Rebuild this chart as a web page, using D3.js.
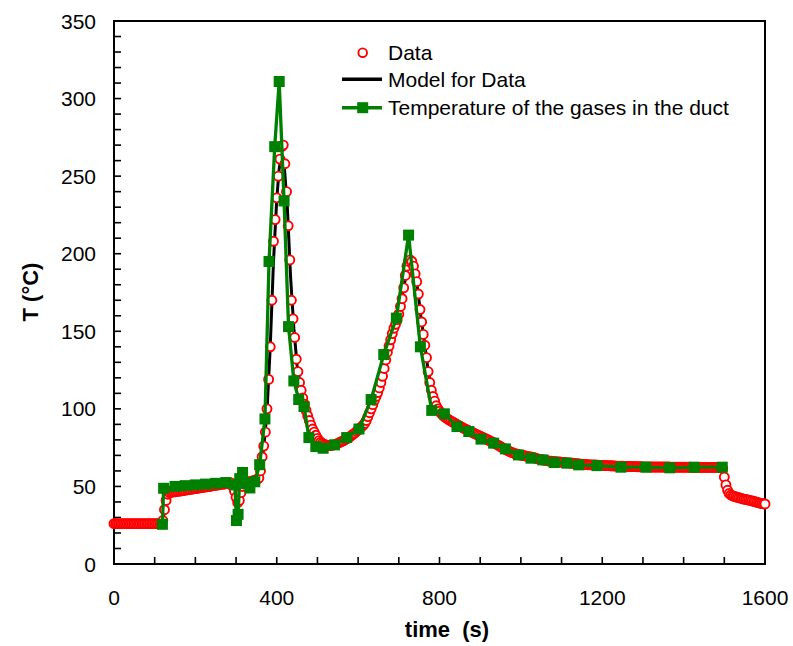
<!DOCTYPE html>
<html><head><meta charset="utf-8">
<script src="https://cdn.jsdelivr.net/npm/d3@7"></script>
<style>
body{margin:0;background:#fff}
svg{display:block}
text{font-family:Arial,"Liberation Sans",Helvetica,sans-serif;fill:#000}
</style>
</head><body>
<svg id="c" width="793" height="646"></svg>
<script>
// ---- DATA ----
// measured data: one sample every 4 s from 0 to 1600 s
const dataStep = 4;
const dataTemp = [
26,26,26,26,26,26,26,26,26,26,
26,26,26,26,26,26,26,26,26,26,
26,26,26,26,26,26,26,26,26,26,
28,35,41,45,46,46.2,46.4,46.5,46.6,46.8,
47,47.1,47.3,47.4,47.6,47.8,48,48.1,48.3,48.4,
48.6,48.8,49,49.1,49.3,49.5,49.6,49.8,50,50.1,
50.3,50.5,50.6,50.8,51,51.1,51.3,51.5,51.6,51.8,
52,52.1,52.2,50,47,43,39.5,41,46,50,
51.5,52,52.5,53,53.2,53.5,53.8,54,54.5,55.5,
60,69,76,85,100,119,140,170,208,222,
236,250,261,269,270,258,240,218,196,170,
158,146,132,124,117,112,107,103,99,95.5,
92.5,89.5,87,85,83,81,79.5,78.5,77.8,77.2,
76.8,76.5,76.4,76.4,76.5,76.8,77.1,77.5,78,78.5,
79,79.5,80.1,80.7,81.4,82.1,82.9,83.7,84.5,85.4,
86.4,87.3,88.3,89.3,90.6,92.5,95,97.5,100,102.7,
105.5,108,110.5,113.5,117,121,126,131.5,136.5,140.5,
144.5,148.5,152,154.5,157.5,161,166,171,178,186,
192,195,196,195,192,187,182,174,164,156,
148,141,133,124,117,112,108,105,102,100,
98.5,97,96,95,94.2,93.5,92.8,92.2,91.6,91,
90.4,89.8,89.2,88.6,88,87.4,86.9,86.4,85.9,85.4,
84.9,84.4,83.9,83.4,82.9,82.4,81.9,81.4,80.9,80.4,
79.9,79.4,78.9,78.4,77.8,77.2,76.6,76,75.4,74.8,
74.2,73.6,73.1,72.6,72.1,71.7,71.3,71,70.7,70.4,
70.2,70,69.8,69.6,69.4,69.2,69,68.8,68.5,68.2,
67.9,67.6,67.4,67.2,67,66.8,66.6,66.4,66.3,66.2,
66.1,66,65.9,65.8,65.7,65.6,65.5,65.4,65.3,65.2,
65.1,65,64.9,64.8,64.7,64.6,64.5,64.4,64.3,64.2,
64.1,64,64,63.9,63.9,63.8,63.8,63.7,63.7,63.6,
63.6,63.5,63.5,63.4,63.4,63.3,63.3,63.2,63.2,63.1,
63.1,63,63,63,62.9,62.9,62.9,62.8,62.8,62.8,
62.8,62.7,62.7,62.7,62.7,62.6,62.6,62.6,62.6,62.6,
62.5,62.5,62.5,62.5,62.5,62.5,62.5,62.5,62.5,62.5,
62.5,62.5,62.4,62.4,62.4,62.4,62.4,62.4,62.4,62.4,
62.4,62.4,62.4,62.4,62.4,62.3,62.3,62.3,62.3,62.3,
62.3,62.3,62.3,62.3,62.3,62.3,62.3,62.3,62.3,62.3,
62.3,62.3,62.2,62.2,61.5,56,51,47.5,45.5,44.5,
44,43.6,43.3,43,42.7,42.4,42.1,41.8,41.6,41.4,
41.2,41,40.7,40.4,40.1,39.8,39.5,39.2,39,38.8,
38.7
];
const dataTime = dataTemp.map((d, i) => i * dataStep);

// model for data
const modelTime = [0,116,120,124,132,140,200,280,288,296,304,312,320,340,356,362,368,376,384,392,400,406,412,418,426,434,442,450,460,470,480,490,500,520,540,560,580,600,620,640,660,680,700,712,722,730,738,746,754,762,772,782,792,808,840,900,960,1000,1100,1200,1300,1492,1500,1508,1520,1560,1600];
const modelTemp = [26,26,27,34,44,46.5,48.6,52,51,45,40,47,51.5,53,55,63,75,98,140,195,235,255,264,258,230,185,152,128,112,100,92,85.5,80.5,77,77,79,82,86.5,92,105,120,144,161,178,192,196,190,178,160,145,125,110,102,96,90.5,82.7,74.3,70.2,65.7,63.6,62.6,62.2,57,48,44,41.2,38.7];

// temperature of the gases in the duct
const gasTime = [119,122,150,175,200,225,250,275,297,301,305,309,316,325,334,346,358,371,381,395,406,418,429,442,454,467,479,496,514,542,572,602,632,663,694,724,753,781,812,843,872,902,933,962,994,1025,1054,1082,1113,1142,1187,1246,1307,1366,1426,1495];
const gasTemp = [25.6,48.8,50,50.5,51,51.5,52,52.5,51,28,32,55,59,52,49,53,64,93.5,195,269,311,234,153,118,106,101.5,81.5,75.7,74.6,76.8,81.5,87,106,135,158.5,212,140,99,96.8,88.6,85.4,80.5,77.9,74.2,70.3,68.2,67.1,65.4,65,63.9,63.4,62.4,62.4,62,62.4,62.4];

const xTicks = [0,400,800,1200,1600];
const yTicks = [0,50,100,150,200,250,300,350];
const legendLabels = ["Data","Model for Data","Temperature of the gases in the duct"];
const xTitle = "time\u00A0 (s)";
const yTitle = "T (\u00B0C)";

// ---- DRAW ----
const svg = d3.select("#c");
const L = 114, R = 765, T = 21, B = 564;
const x = d3.scaleLinear().domain([0,1600]).range([L,R]);
const y = d3.scaleLinear().domain([0,350]).range([B,T]);
const RED = "#ff0000", GREEN = "#008000";

// frame
svg.append("rect").attr("x",L).attr("y",T).attr("width",R-L).attr("height",B-T)
  .attr("fill","none").attr("stroke","#000").attr("stroke-width",2);

// ticks (inward)
svg.append("g").selectAll("line").data(d3.range(0,351,10)).join("line")
  .attr("x1",L).attr("x2",L+7).attr("y1",d=>y(d)).attr("y2",d=>y(d))
  .attr("stroke","#000").attr("stroke-width",1.6);
svg.append("g").selectAll("line").data(d3.range(0,1601,100)).join("line")
  .attr("y1",B).attr("y2",B-7).attr("x1",d=>x(d)).attr("x2",d=>x(d))
  .attr("stroke","#000").attr("stroke-width",1.6);

// tick labels
svg.append("g").selectAll("text").data(yTicks).join("text")
  .attr("x",96).attr("y",d=>y(d)+7.5).attr("text-anchor","end")
  .attr("font-size",21).text(d=>d);
svg.append("g").selectAll("text").data(xTicks).join("text")
  .attr("x",d=>x(d)).attr("y",605).attr("text-anchor","middle")
  .attr("font-size",21).text(d=>d);

// axis titles
svg.append("text").attr("x",447).attr("y",637).attr("text-anchor","middle")
  .attr("font-size",22).attr("font-weight","bold").style("white-space","pre").text(xTitle);
svg.append("text").attr("transform","translate(38,292) rotate(-90)").attr("text-anchor","middle")
  .attr("font-size",22).attr("font-weight","bold").text(yTitle);

// model line
const line = d3.line().x(d=>x(d[0])).y(d=>y(d[1]));
svg.append("path").datum(modelTime.map((t,i)=>[t,modelTemp[i]]))
  .attr("d",line).attr("fill","none").attr("stroke","#000").attr("stroke-width",3);

// data circles
svg.append("g").selectAll("circle").data(dataTime.map((t,i)=>[t,dataTemp[i]])).join("circle")
  .attr("cx",d=>x(d[0])).attr("cy",d=>y(d[1])).attr("r",4.5)
  .attr("fill","#fff").attr("stroke",RED).attr("stroke-width",1.9);

// gas line and squares
const gas = gasTime.map((t,i)=>[t,gasTemp[i]]);
svg.append("path").datum(gas).attr("d",line).attr("fill","none")
  .attr("stroke",GREEN).attr("stroke-width",3.3).attr("stroke-linejoin","round");
const S = 11;
svg.append("g").selectAll("rect").data(gas).join("rect")
  .attr("x",d=>x(d[0])-S/2).attr("y",d=>y(d[1])-S/2).attr("width",S).attr("height",S)
  .attr("fill",GREEN);

// legend
const lg = svg.append("g");
const ly = [52.7, 79.3, 107.7];
lg.append("circle").attr("cx",362.7).attr("cy",ly[0]).attr("r",4.3)
  .attr("fill","#fff").attr("stroke",RED).attr("stroke-width",1.9);
lg.append("line").attr("x1",342).attr("x2",382).attr("y1",ly[1]).attr("y2",ly[1])
  .attr("stroke","#000").attr("stroke-width",3.5);
lg.append("line").attr("x1",342).attr("x2",382).attr("y1",ly[2]).attr("y2",ly[2])
  .attr("stroke",GREEN).attr("stroke-width",3.5);
lg.append("rect").attr("x",362.7-S/2).attr("y",ly[2]-S/2).attr("width",S).attr("height",S).attr("fill",GREEN);
lg.selectAll("text").data(legendLabels).join("text")
  .attr("x",388).attr("y",(d,i)=>ly[i]+7.5).attr("font-size",21).text(d=>d);
</script>
</body></html>
